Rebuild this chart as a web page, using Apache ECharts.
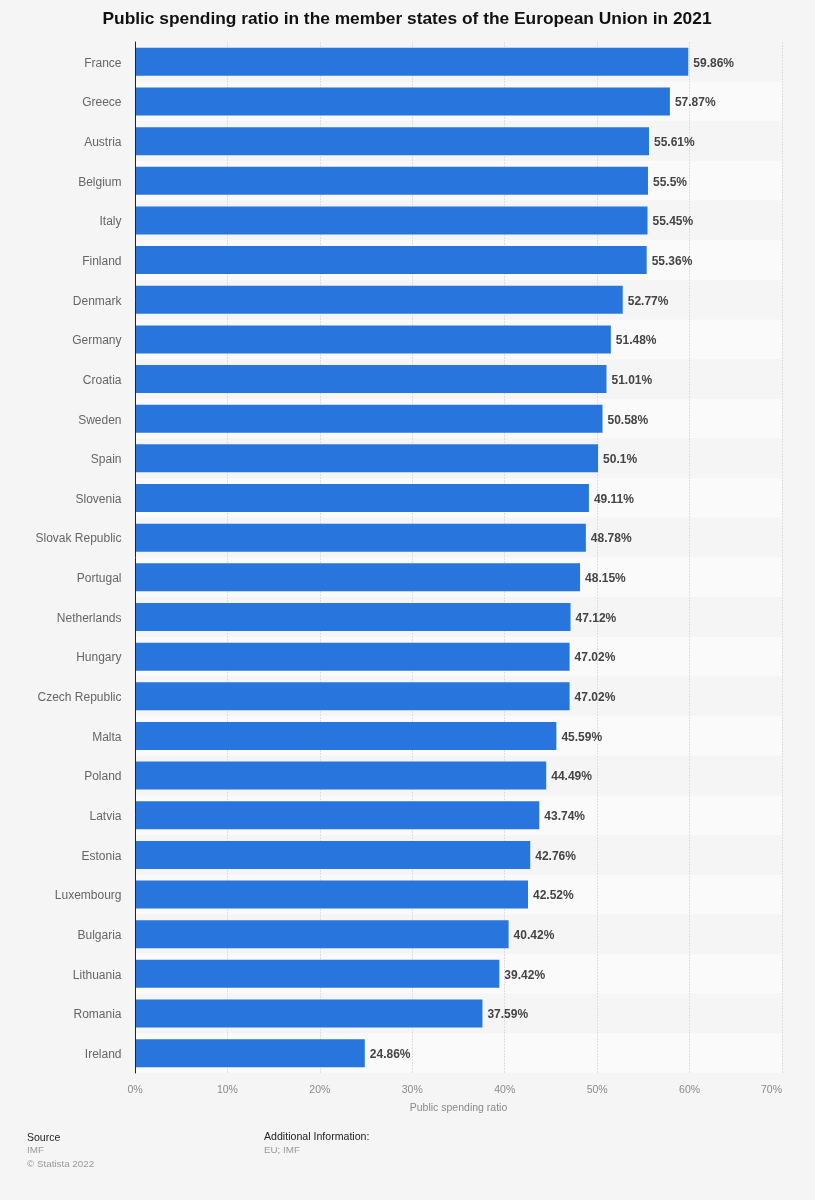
<!DOCTYPE html>
<html><head><meta charset="utf-8">
<style>html,body{margin:0;padding:0;background:#f5f5f5}#c{width:815px;height:1200px}</style>
<script src="https://cdn.jsdelivr.net/npm/echarts@6/dist/echarts.min.js"></script>
</head><body><div id="c"></div>
<script>
const titleText = 'Public spending ratio in the member states of the European Union in 2021';
const axisName = 'Public spending ratio';
const categories = ['France','Greece','Austria','Belgium','Italy','Finland','Denmark','Germany','Croatia','Sweden','Spain','Slovenia','Slovak Republic','Portugal','Netherlands','Hungary','Czech Republic','Malta','Poland','Latvia','Estonia','Luxembourg','Bulgaria','Lithuania','Romania','Ireland'];
const values = [59.86,57.87,55.61,55.5,55.45,55.36,52.77,51.48,51.01,50.58,50.1,49.11,48.78,48.15,47.12,47.02,47.02,45.59,44.49,43.74,42.76,42.52,40.42,39.42,37.59,24.86];
const font = '"Liberation Sans", Arial, sans-serif';
const chart = echarts.init(document.getElementById('c'), null, {renderer:'canvas'});
chart.setOption({
  animation:false,
  backgroundColor:'#f5f5f5',
  textStyle:{fontFamily:font},
  title:[
    {text:titleText,left:402,top:6,textAlign:'center',textStyle:{fontSize:17.35,fontWeight:'bold',color:'#111',fontFamily:font}},
    {text:'Source',left:22,top:1128,textStyle:{fontSize:10.5,fontWeight:'normal',color:'#222',fontFamily:font}},
    {text:'IMF',left:22,top:1140,textStyle:{fontSize:9.8,fontWeight:'normal',color:'#999',fontFamily:font}},
    {text:'© Statista 2022',left:22,top:1154,textStyle:{fontSize:9.8,fontWeight:'normal',color:'#999',fontFamily:font}},
    {text:'Additional Information:',left:259,top:1127,textStyle:{fontSize:10.6,fontWeight:'normal',color:'#222',fontFamily:font}},
    {text:'EU; IMF',left:259,top:1140,textStyle:{fontSize:9.8,fontWeight:'normal',color:'#999',fontFamily:font}}
  ],
  grid:{left:135,top:42,width:647,height:1031,containLabel:false},
  xAxis:{
    type:'value',min:0,max:70,interval:10,
    name:axisName,nameLocation:'middle',nameGap:30,
    nameTextStyle:{fontSize:10.5,color:'#8a8a8a'},
    axisLine:{show:false},axisTick:{show:false},
    axisLabel:{formatter:'{value}%',fontSize:10.5,color:'#8a8a8a',margin:12,alignMaxLabel:'right'},
    splitLine:{show:true,lineStyle:{color:'#dedede',type:[2,1],width:1}}
  },
  yAxis:[{
    type:'category',data:categories,inverse:true,
    axisLine:{show:false},
    axisTick:{show:false},
    axisLabel:{fontSize:12,color:'#666',margin:13.5,verticalAlign:'top',padding:[-4.5,0,0,0]},
    splitArea:{show:true,areaStyle:{color:['#f5f5f5','#fafafa']}},
    splitLine:{show:false}
  },{
    type:'category',data:categories,inverse:true,position:'left',z:5,
    axisLine:{show:true,onZero:false,lineStyle:{color:'#222',width:1}},
    axisTick:{show:false},axisLabel:{show:false},splitArea:{show:false},splitLine:{show:false}
  }],
  series:[{
    type:'bar',data:values,barWidth:28,yAxisIndex:0,
    itemStyle:{color:'#2775dd'},
    z:3,
    label:{show:true,position:'right',distance:5,offset:[0,1.5],formatter:p=>p.value+'%',fontSize:12,fontWeight:'bold',color:'#444',fontFamily:font}
  }]
});
</script></body></html>
